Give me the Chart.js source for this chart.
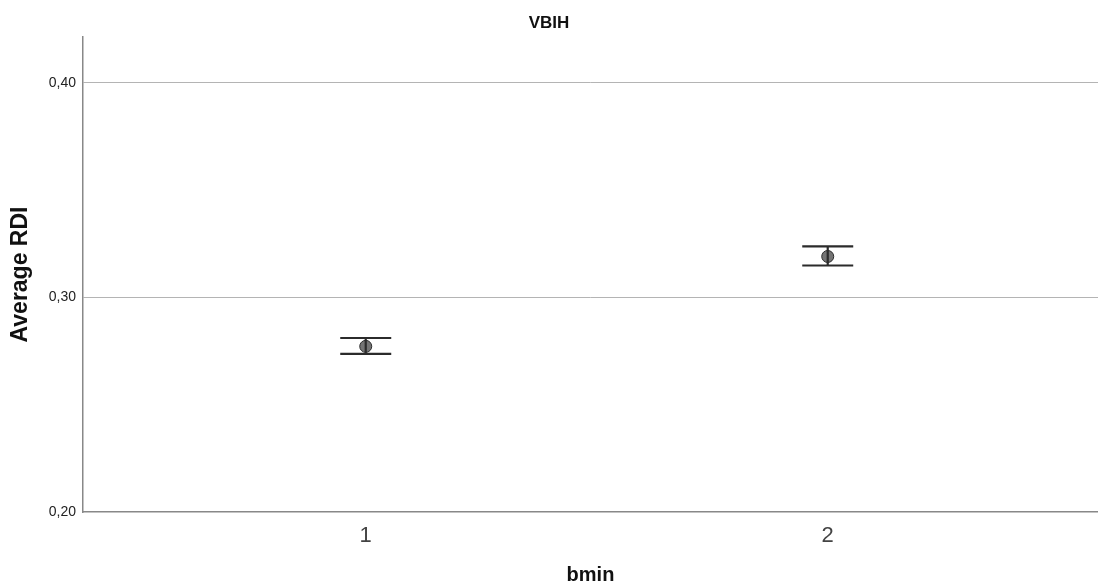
<!DOCTYPE html>
<html>
<head>
<meta charset="utf-8">
<script src="https://cdn.jsdelivr.net/npm/chart.js@4"></script>
<style>
  body { margin: 0; background: #fff; }
  canvas { display: block; }
</style>
</head>
<body>
<canvas id="chart" width="1098" height="587"></canvas>
<script>
// values
const categories = ["1", "2"];
const means = [0.2772, 0.3191];
const lower = [0.2737, 0.3149];
const upper = [0.2811, 0.3238];
const yTicks = [0.2, 0.3, 0.4];

const points = means.map((m, i) => ({ x: i + 1, y: m }));

const fmt = (v) => v.toFixed(2).replace(".", ",");

// error bars drawn from the data through the chart scales
const errorBars = {
  id: "errorBars",
  afterDatasetsDraw(chart) {
    const ctx = chart.ctx;
    const xs = chart.scales.x;
    const ys = chart.scales.y;
    ctx.save();
    ctx.strokeStyle = "#2b2b2b";
    ctx.lineWidth = 2.2;
    means.forEach((m, i) => {
      const px = xs.getPixelForValue(i + 1);
      const top = ys.getPixelForValue(upper[i]);
      const bot = ys.getPixelForValue(lower[i]);
      ctx.beginPath();
      ctx.moveTo(px, top);
      ctx.lineTo(px, bot);
      ctx.moveTo(px - 25.5, top);
      ctx.lineTo(px + 25.5, top);
      ctx.moveTo(px - 25.5, bot);
      ctx.lineTo(px + 25.5, bot);
      ctx.stroke();
    });
    ctx.restore();
  },
};

new Chart(document.getElementById("chart"), {
  type: "scatter",
  data: {
    datasets: [
      {
        data: points,
        pointRadius: 6,
        pointBackgroundColor: "rgba(70,70,70,0.75)",
        pointBorderColor: "#2b2b2b",
        pointBorderWidth: 1,
      },
    ],
  },
  plugins: [errorBars],
  options: {
    responsive: false,
    animation: false,
    layout: { padding: 0, autoPadding: false },
    plugins: {
      legend: { display: false },
      tooltip: { enabled: false },
      title: {
        display: true,
        text: "VBIH",
        color: "#111",
        font: { family: "Liberation Sans", size: 17, weight: "bold" },
        padding: { top: 13.5, bottom: 3.1 },
      },
    },
    scales: {
      x: {
        type: "linear",
        min: 0.388,
        max: 2.585,
        afterBuildTicks: (scale) => {
          scale.ticks = categories.map((c, i) => ({ value: i + 1 }));
        },
        afterFit: (scale) => {
          scale.height = 75;
        },
        grid: { display: false, drawTicks: false },
        border: { display: true, color: "#888", width: 1.5 },
        ticks: {
          padding: 11,
          color: "#444",
          font: { family: "Liberation Sans", size: 22 },
          callback: (v) => categories[v - 1],
        },
        title: {
          display: true,
          text: "bmin",
          color: "#111",
          font: { family: "Liberation Sans", size: 20, weight: "bold" },
          padding: { top: 0, bottom: 0 },
        },
      },
      y: {
        min: 0.2,
        max: 0.4214,
        afterBuildTicks: (scale) => {
          scale.ticks = yTicks.map((v) => ({ value: v }));
        },
        afterFit: (scale) => {
          scale.width = 83;
        },
        grid: {
          drawTicks: false,
          color: (c) => (c.tick && c.tick.value === 0.2 ? "rgba(0,0,0,0)" : "#b4b4b4"),
          lineWidth: 1,
        },
        border: { display: true, color: "#888", width: 1.5 },
        ticks: {
          padding: 7,
          color: "#222",
          font: { family: "Liberation Sans", size: 14 },
          callback: (v) => fmt(v),
        },
        title: {
          display: true,
          text: "Average RDI",
          color: "#111",
          font: { family: "Liberation Sans", size: 23, weight: "bold" },
          padding: { top: 6.5, bottom: 0 },
        },
      },
    },
  },
});
</script>
</body>
</html>
